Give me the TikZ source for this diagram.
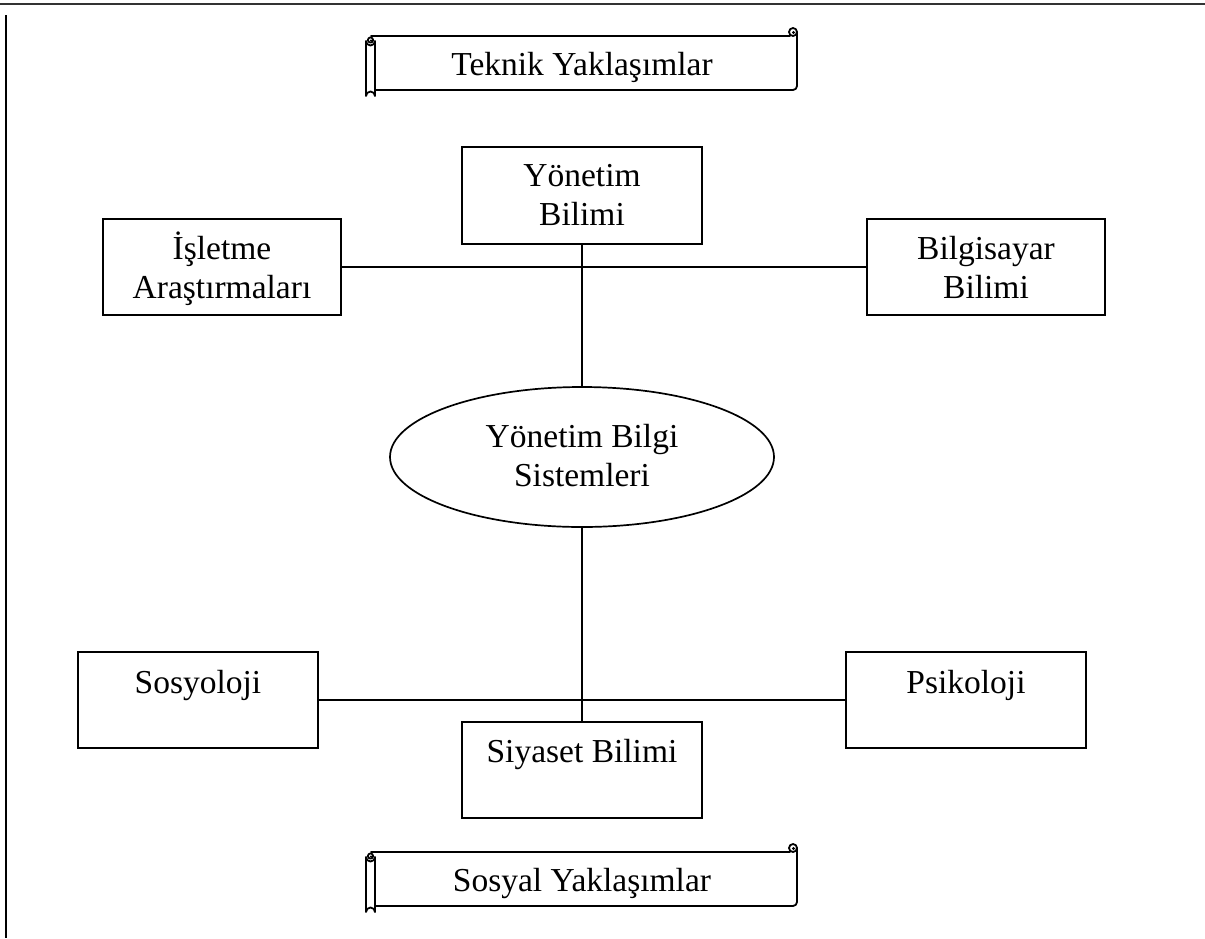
\documentclass[tikz,border=0pt]{standalone}
\usepackage{fontspec}
\setmainfont{Liberation Serif}
\usetikzlibrary{shapes.geometric}
\begin{document}
\begin{tikzpicture}[x=1pt,y=-1pt,
  every node/.style={font=\fontsize{33.5}{39}\selectfont},
  line/.style={line width=1.7pt,black},
  field/.style={draw,line width=1.7pt,rectangle,inner sep=0pt,minimum width=240pt,minimum height=96pt},
  core/.style={draw,line width=1.7pt,ellipse,inner sep=0pt,minimum width=384pt,minimum height=140pt},
  caption/.style={anchor=base,inner sep=0pt,align=center},
  scrollline/.style={line width=1.8pt,line join=round,line cap=round}]
\useasboundingbox (0,0) rectangle (1205,938);
% page rules
\draw[line width=2.2pt,black!80] (0,4) -- (1205,4);
\draw[line width=2.2pt] (6,15) -- (6,938);

% scroll banner: body, right curl, left roll; #1 = vertical offset downwards
\newcommand{\banner}[2]{%
  \begin{scope}[yshift=-#1pt]
    % body outline
    \draw[scrollline] (371,36) -- (790,36);
    \draw[scrollline] (797,32) -- (797,86) arc[start angle=0,end angle=90,radius=4] -- (375,90);
    % right curl
    \draw[scrollline] (793,32) circle[radius=4];
    \fill (793.5,32.5) circle[radius=1.6];
    % left roll
    \draw[scrollline,fill=white] (366,96) -- (366,41) arc[start angle=180,end angle=0,radius=4.5] -- (375,96)
      arc[start angle=0,end angle=-180,radius=4.5];
    \draw[scrollline] (370.5,40) circle[radius=2.6];
    \fill (371,40.5) circle[radius=1.2];
    \node[caption] (#2) at (582,75) {};
  \end{scope}}
\banner{0}{tech}
\node[caption] (techtxt) at (tech) {Teknik Yaklaşımlar};
\banner{816}{soc}
\node[caption] (soctxt) at (soc) {Sosyal Yaklaşımlar};

% discipline boxes
\node[field,minimum height=97pt] (yb) at (582,195.5) {};
\node[field,minimum width=238pt] (ia) at (222,267) {};
\node[field,minimum width=238pt] (bb) at (986,267) {};
\node[field] (so) at (198,700) {};
\node[field] (ps) at (966,700) {};
\node[field] (sb) at (582,770) {};

% box texts (anchored at the baseline of the last line)
\node[caption] at (582,225) {Yönetim\\Bilimi};
\node[caption] at (222,298) {İşletme\\Araştırmaları};
\node[caption] at (986,298) {Bilgisayar\\Bilimi};
\node[caption] at (198,693) {Sosyoloji};
\node[caption] at (966,693) {Psikoloji};
\node[caption] at (582,762) {Siyaset Bilimi};

% central ellipse
\node[core] (mis) at (582,457) {};
\node[caption] at (582,486) {Yönetim Bilgi\\Sistemleri};

% connectors
\draw[line] (ia.east) -- (bb.west);
\draw[line] (yb.south) -- (mis.north);
\draw[line] (so.east) -- (ps.west);
\draw[line] (mis.south) -- (sb.north);
\end{tikzpicture}
\end{document}
